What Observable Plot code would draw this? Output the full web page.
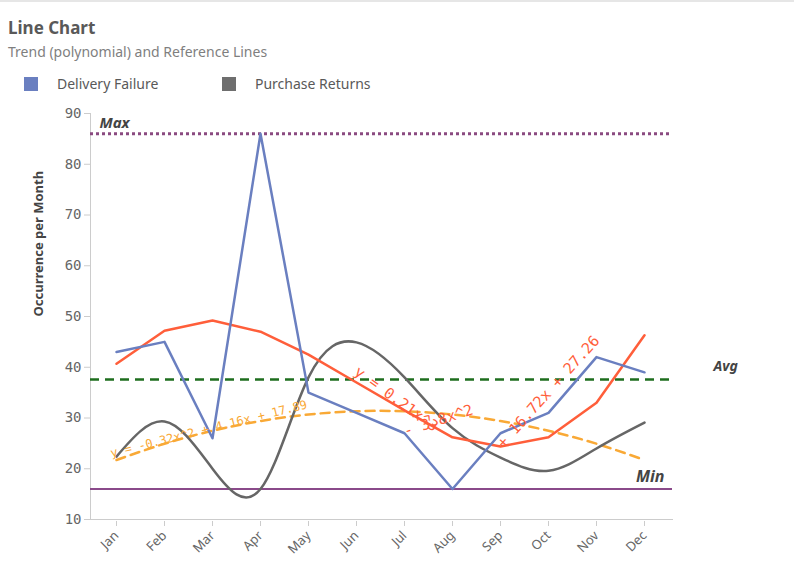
<!DOCTYPE html>
<html><head><meta charset="utf-8">
<script src="https://cdn.jsdelivr.net/npm/d3@7"></script>
<script src="https://cdn.jsdelivr.net/npm/@observablehq/plot@0.6"></script>
<style>
body{margin:0;background:#fff;font-family:"Noto Sans",sans-serif;width:794px;height:584px;overflow:hidden;border-top:2px solid #e6e6e6;box-sizing:border-box}
#hdr{position:relative;height:103px}
.t{position:absolute;left:8px;top:14px;font-size:17px;font-weight:bold;color:#595959}
.s{position:absolute;left:8px;top:40px;font-size:14px;color:#7f7f7f}
.lg{position:absolute;top:72px;font-size:14px;color:#595959}
.sq{display:inline-block;width:14px;height:14px;vertical-align:-2px;margin-right:19px}
</style></head><body>
<div id="hdr"><div class="t">Line Chart</div><div class="s">Trend (polynomial) and Reference Lines</div>
<div class="lg" style="left:24px"><span class="sq" style="background:#6a7fc0"></span>Delivery Failure</div>
<div class="lg" style="left:222px"><span class="sq" style="background:#6e6e6e"></span>Purchase Returns</div></div>
<div id="chart"></div>
<script>
const months = ["Jan","Feb","Mar","Apr","May","Jun","Jul","Aug","Sep","Oct","Nov","Dec"];
const deliveryFailure = [43,45,26,86,35,31,27,16,27,31,42,39];
const purchaseReturns = [22.4,29.3,20,16,38,44.9,38,28,22.2,19.6,24,29.1];
const cubicTrend = [40.7,47.2,49.2,47,42.5,37,31.5,26.2,24.4,26.2,33,46.3];
const quadTrend = [21.73,24.93,27.49,29.41,30.69,31.33,31.33,30.69,29.41,27.49,24.93,21.73];
const refMax = 86, refAvg = 37.6, refMin = 16;
const yTicks = [10,20,30,40,50,60,70,80,90];
const rows = (arr) => months.map((m,i)=>({m, v:arr[i]}));
const redLabels = [
 {m:"Jun", v:39.4, dx:-12, rot:36, t:"y = 0.21x^3"},
 {m:"Jul", v:27.2, dx:16, rot:-18, t:"- 3.8x^2"},
 {m:"Sep", v:24.5, dx:32, rot:-48, t:"+ 16.72x + 27.26"}
];
const chart = Plot.plot({
  width:794, height:479, marginLeft:90, marginRight:122, marginTop:8, marginBottom:65,
  x:{type:"point", domain:months, range:[113,647], padding:0, label:null},
  y:{domain:[10,90], range:[414,8], label:null},
  style:{fontFamily:"DejaVu Sans Mono", fontSize:"14px", color:"#666"},
  marks:[
    Plot.frame({anchor:"left", stroke:"#ccc"}),
    Plot.frame({anchor:"bottom", stroke:"#ccc"}),
    Plot.axisY({ticks:yTicks, tickSize:6, tickPadding:3, fontSize:14, fill:"#666", stroke:"#ccc"}),
    Plot.axisX({tickSize:5, tickRotate:-45, fontFamily:"Noto Sans", fontSize:13, fill:"#666", stroke:"#ccc", textAnchor:"end", dy:2}),
    Plot.text(["Occurrence per Month"],{frameAnchor:"left", dx:-52, rotate:-90, fontFamily:"Noto Sans", fontWeight:"bold", fontSize:13, fill:"#444"}),
    Plot.ruleY([refMax],{stroke:"#8a4a80", strokeWidth:3, strokeDasharray:"3,3"}),
    Plot.ruleY([refAvg],{stroke:"#1e6e1e", strokeWidth:2.5, strokeDasharray:"9,6"}),
    Plot.ruleY([refMin],{stroke:"#8a4a8a", strokeWidth:2}),
    Plot.line(rows(quadTrend),{x:"m", y:"v", stroke:"#f9a936", strokeWidth:2.5, strokeDasharray:"9,6", curve:"natural"}),
    Plot.line(rows(purchaseReturns),{x:"m", y:"v", stroke:"#666", strokeWidth:2.5, curve:"natural"}),
    Plot.line(rows(cubicTrend),{x:"m", y:"v", stroke:"#ff5e3a", strokeWidth:2.5}),
    Plot.line(rows(deliveryFailure),{x:"m", y:"v", stroke:"#6a7fc0", strokeWidth:2.5}),
    Plot.text([{m:"Jan", v:23}],{x:"m", y:"v", dx:-6, rotate:-14, textAnchor:"start", text:()=>"y = -0.32x^2 + 4.16x + 17.89", fill:"#f9a936", fontSize:12}),
    Plot.text(redLabels,{x:"m", y:"v", dx:"dx", rotate:"rot", textAnchor:"start", text:"t", fill:"#ff5e3a", fontSize:15}),
    Plot.text([{m:"Jan", v:refMax}],{x:"m", y:"v", dx:-17, dy:-11, textAnchor:"start", text:()=>"Max", fontFamily:"Noto Sans", fontWeight:"bold", fontStyle:"italic", fontSize:15, fill:"#444"}),
    Plot.text([{m:"Dec", v:refAvg}],{x:"m", y:"v", dx:69, dy:-13, textAnchor:"start", text:()=>"Avg", fontFamily:"Noto Sans", fontWeight:"bold", fontStyle:"italic", fontSize:14, fill:"#444"}),
    Plot.text([{m:"Dec", v:refMin}],{x:"m", y:"v", dx:20, dy:-12, textAnchor:"end", text:()=>"Min", fontFamily:"Noto Sans", fontWeight:"bold", fontStyle:"italic", fontSize:16, fill:"#444"})
  ]
});
document.getElementById("chart").appendChild(chart);
</script></body></html>
